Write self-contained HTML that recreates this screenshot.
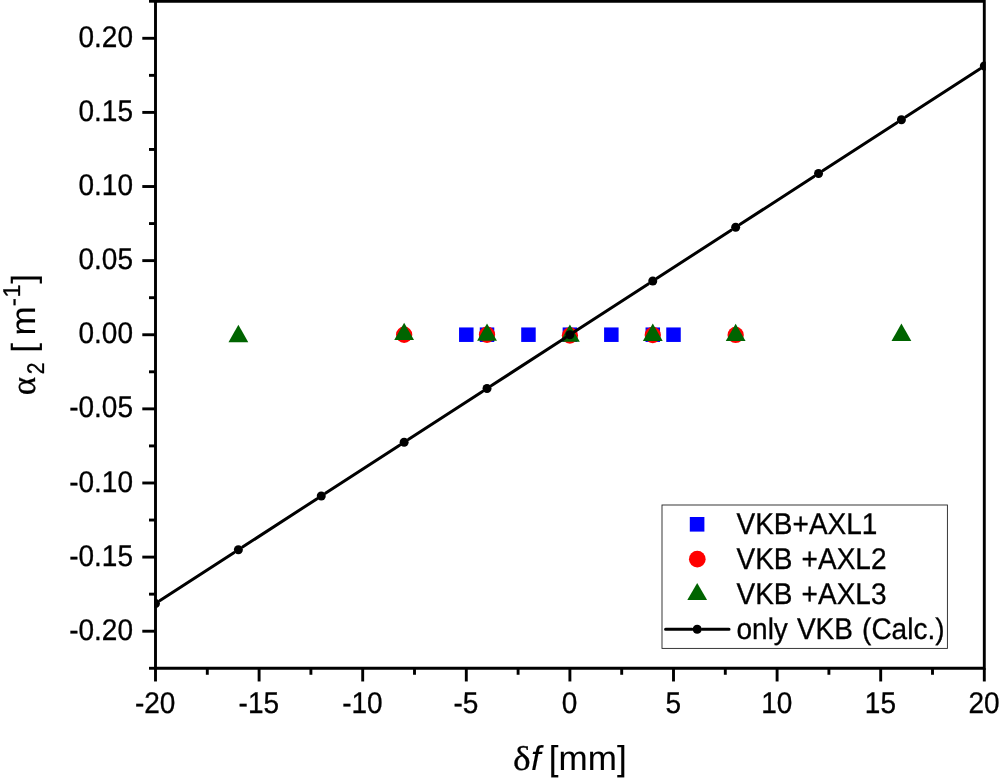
<!DOCTYPE html>
<html><head><meta charset="utf-8"><title>chart</title>
<style>html,body{margin:0;padding:0;background:#fff;overflow:hidden}svg{display:block;will-change:transform}text{text-rendering:geometricPrecision;font-family:"Liberation Sans",sans-serif;fill:#000;stroke:#000;stroke-width:0.30px}.n{stroke-width:.1px}.s{font-family:"Liberation Serif",serif}.i{font-style:italic}</style></head><body>
<svg width="1000" height="781" viewBox="0 0 1000 781">
<rect x="0" y="0" width="1000" height="781" fill="#fff"/>
<g stroke="#000" stroke-width="2.90" fill="none" stroke-linecap="butt">
<path d="M155.50 -0.22 V669.72 M984.30 -0.22 V669.72 M154.05 1.23 H985.75 M154.05 668.27 H985.75"/>
<path d="M155.50 668.27 H149.00"/>
<path d="M155.50 631.21 H142.30"/>
<path d="M155.50 594.15 H149.00"/>
<path d="M155.50 557.10 H142.30"/>
<path d="M155.50 520.04 H149.00"/>
<path d="M155.50 482.98 H142.30"/>
<path d="M155.50 445.92 H149.00"/>
<path d="M155.50 408.87 H142.30"/>
<path d="M155.50 371.81 H149.00"/>
<path d="M155.50 334.75 H142.30"/>
<path d="M155.50 297.69 H149.00"/>
<path d="M155.50 260.63 H142.30"/>
<path d="M155.50 223.58 H149.00"/>
<path d="M155.50 186.52 H142.30"/>
<path d="M155.50 149.46 H149.00"/>
<path d="M155.50 112.40 H142.30"/>
<path d="M155.50 75.35 H149.00"/>
<path d="M155.50 38.29 H142.30"/>
<path d="M155.50 1.23 H149.00"/>
<path d="M155.50 668.27 V681.47"/>
<path d="M207.30 668.27 V674.77"/>
<path d="M259.10 668.27 V681.47"/>
<path d="M310.90 668.27 V674.77"/>
<path d="M362.70 668.27 V681.47"/>
<path d="M414.50 668.27 V674.77"/>
<path d="M466.30 668.27 V681.47"/>
<path d="M518.10 668.27 V674.77"/>
<path d="M569.90 668.27 V681.47"/>
<path d="M621.70 668.27 V674.77"/>
<path d="M673.50 668.27 V681.47"/>
<path d="M725.30 668.27 V674.77"/>
<path d="M777.10 668.27 V681.47"/>
<path d="M828.90 668.27 V674.77"/>
<path d="M880.70 668.27 V681.47"/>
<path d="M932.50 668.27 V674.77"/>
<path d="M984.30 668.27 V681.47"/>
</g>
<text transform="translate(133.00 639.81) scale(1 1.065)" font-size="28" text-anchor="end">-0.20</text>
<text transform="translate(133.00 565.70) scale(1 1.065)" font-size="28" text-anchor="end">-0.15</text>
<text transform="translate(133.00 491.58) scale(1 1.065)" font-size="28" text-anchor="end">-0.10</text>
<text transform="translate(133.00 417.47) scale(1 1.065)" font-size="28" text-anchor="end">-0.05</text>
<text transform="translate(133.00 343.35) scale(1 1.065)" font-size="28" text-anchor="end">0.00</text>
<text transform="translate(133.00 269.24) scale(1 1.065)" font-size="28" text-anchor="end">0.05</text>
<text transform="translate(133.00 195.12) scale(1 1.065)" font-size="28" text-anchor="end">0.10</text>
<text transform="translate(133.00 121.00) scale(1 1.065)" font-size="28" text-anchor="end">0.15</text>
<text transform="translate(133.00 46.89) scale(1 1.065)" font-size="28" text-anchor="end">0.20</text>
<text transform="translate(155.20 712.60) scale(1 1.065)" font-size="28" text-anchor="middle">-20</text>
<text transform="translate(258.80 712.60) scale(1 1.065)" font-size="28" text-anchor="middle">-15</text>
<text transform="translate(362.40 712.60) scale(1 1.065)" font-size="28" text-anchor="middle">-10</text>
<text transform="translate(466.00 712.60) scale(1 1.065)" font-size="28" text-anchor="middle">-5</text>
<text transform="translate(569.60 712.60) scale(1 1.065)" font-size="28" text-anchor="middle">0</text>
<text transform="translate(673.20 712.60) scale(1 1.065)" font-size="28" text-anchor="middle">5</text>
<text transform="translate(776.80 712.60) scale(1 1.065)" font-size="28" text-anchor="middle">10</text>
<text transform="translate(880.40 712.60) scale(1 1.065)" font-size="28" text-anchor="middle">15</text>
<text transform="translate(984.00 712.60) scale(1 1.065)" font-size="28" text-anchor="middle">20</text>
<g fill="#0000ff">
<rect x="459.05" y="327.45" width="14.50" height="14.50"/>
<rect x="479.77" y="327.45" width="14.50" height="14.50"/>
<rect x="521.21" y="327.45" width="14.50" height="14.50"/>
<rect x="562.65" y="327.45" width="14.50" height="14.50"/>
<rect x="604.09" y="327.45" width="14.50" height="14.50"/>
<rect x="645.53" y="327.45" width="14.50" height="14.50"/>
<rect x="666.25" y="327.45" width="14.50" height="14.50"/>
</g>
<g fill="#ff0000">
<circle cx="404.14" cy="334.75" r="8.15"/>
<circle cx="487.02" cy="334.75" r="8.15"/>
<circle cx="569.90" cy="335.50" r="8.15"/>
<circle cx="652.78" cy="335.00" r="8.15"/>
<circle cx="735.66" cy="334.90" r="8.15"/>
</g>
<g fill="#006400">
<path d="M238.38 324.75 L248.28 342.30 L228.48 342.30 Z"/>
<path d="M404.14 322.70 L414.04 340.10 L394.24 340.10 Z"/>
<path d="M487.02 323.50 L496.92 340.70 L477.12 340.70 Z"/>
<path d="M569.90 324.55 L579.80 341.80 L560.00 341.80 Z"/>
<path d="M652.78 323.40 L662.68 340.90 L642.88 340.90 Z"/>
<path d="M735.66 323.65 L745.56 340.95 L725.76 340.95 Z"/>
<path d="M901.42 323.60 L911.32 341.05 L891.52 341.05 Z"/>
</g>
<defs><clipPath id="cp"><rect x="154.00" y="0" width="831.80" height="668.27"/></clipPath></defs>
<g clip-path="url(#cp)">
<path d="M160.03 600.55 L233.85 552.68 M242.91 546.80 L316.73 498.93 M325.79 493.06 L399.61 445.18 M408.67 439.31 L482.49 391.44 M491.55 385.56 L565.37 337.69 M574.43 331.81 L648.25 283.94 M657.31 278.06 L731.13 230.19 M740.19 224.32 L814.01 176.44 M823.07 170.57 L896.89 122.70 M905.95 116.82 L979.77 68.95" stroke="#000" stroke-width="3.0" fill="none" stroke-linecap="round"/>
<circle cx="155.50" cy="603.49" r="4.5" fill="#000"/>
<circle cx="238.38" cy="549.74" r="4.5" fill="#000"/>
<circle cx="321.26" cy="495.99" r="4.5" fill="#000"/>
<circle cx="404.14" cy="442.25" r="4.5" fill="#000"/>
<circle cx="487.02" cy="388.50" r="4.5" fill="#000"/>
<circle cx="569.90" cy="334.75" r="4.5" fill="#000"/>
<circle cx="652.78" cy="281.00" r="4.5" fill="#000"/>
<circle cx="735.66" cy="227.25" r="4.5" fill="#000"/>
<circle cx="818.54" cy="173.51" r="4.5" fill="#000"/>
<circle cx="901.42" cy="119.76" r="4.5" fill="#000"/>
<circle cx="984.30" cy="66.01" r="4.5" fill="#000"/>
</g>
<rect x="662.0" y="505.0" width="285.4" height="143.4" fill="#fff" stroke="#222" stroke-width="0.9"/>
<rect x="689.80" y="517.00" width="14.6" height="14.6" fill="#0000ff"/>
<circle cx="697.3" cy="559.2" r="8.35" fill="#ff0000"/>
<path d="M697.20 582.97 L707.10 600.12 L687.30 600.12 Z" fill="#006400"/>
<path d="M665.6 629.2 H692.1 M702.3 629.2 H729.0" stroke="#000" stroke-width="3.1" stroke-linecap="round"/>
<circle cx="697.2" cy="629.2" r="4.55" fill="#000"/>
<text transform="translate(736.50 534.00) scale(1 1.065)" font-size="28" text-anchor="start" word-spacing="1.3">VKB+AXL1</text>
<text transform="translate(736.50 569.10) scale(1 1.065)" font-size="28" text-anchor="start" word-spacing="1.3">VKB +AXL2</text>
<text transform="translate(736.50 604.20) scale(1 1.065)" font-size="28" text-anchor="start" word-spacing="1.3">VKB +AXL3</text>
<text transform="translate(736.50 639.30) scale(1 1.065)" font-size="28" text-anchor="start" word-spacing="1.3">only VKB (Calc.)</text>
<text transform="translate(513.00 769.50) scale(1.07 0.985)" font-size="35" text-anchor="start" class="s">δ</text>
<text transform="translate(531.10 769.50) scale(1 0.985)" font-size="35" text-anchor="start" class="n i">f</text>
<text transform="translate(548.85 769.50) scale(1 0.985)" font-size="35" text-anchor="start" class="n">[mm]</text>
<g transform="translate(34.8 334.75) rotate(-90)">
<text transform="translate(-60.50 0.00) scale(1 0.985)" font-size="35" text-anchor="start" class="s">α</text>
<text transform="translate(-39.60 9.40) scale(0.9 1.030)" font-size="23.5" text-anchor="start">2</text>
<text transform="translate(-18.00 0.00) scale(1 0.955)" font-size="35" text-anchor="start" class="n">[</text>
<text transform="translate(-0.80 0.00) scale(1 0.985)" font-size="35" text-anchor="start" class="n">m</text>
<text transform="translate(28.40 -14.30) scale(1.05 1.030)" font-size="23.5" text-anchor="start">-</text>
<text transform="translate(37.30 -14.60) scale(1 1.030)" font-size="23.5" text-anchor="start">1</text>
<text transform="translate(51.00 0.00) scale(1 0.955)" font-size="35" text-anchor="start" class="n">]</text>
</g>
</svg></body></html>
